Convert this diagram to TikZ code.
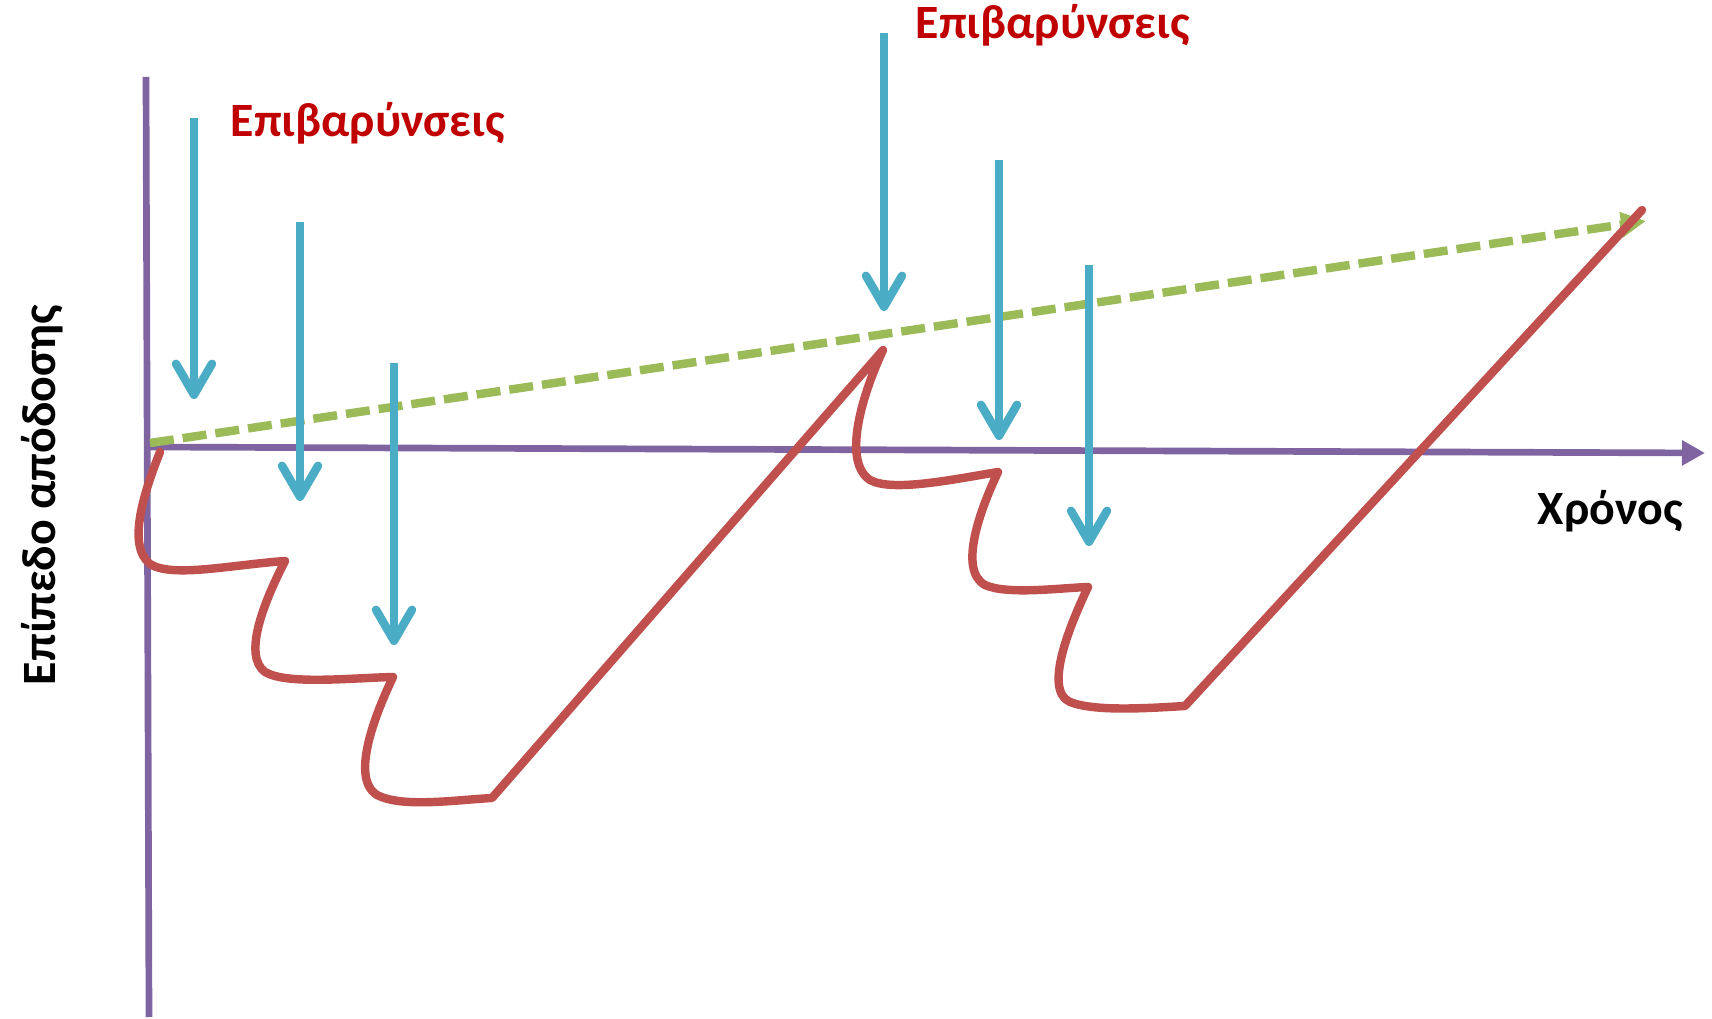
\documentclass[tikz,border=0pt]{standalone}
\usepackage{fontspec}
\setmainfont{Carlito}
\usepackage{tikz}
\usetikzlibrary{arrows.meta}

\definecolor{axispurple}{HTML}{8064A2}
\definecolor{loadblue}{HTML}{4BACC6}
\definecolor{curvered}{HTML}{C0504D}
\definecolor{trendgreen}{HTML}{9BBB59}
\definecolor{labelred}{HTML}{C00000}

\begin{document}
\begin{tikzpicture}[x=0.01cm,y=-0.01cm,
    axis/.style={axispurple,line width=1.9pt},
    load/.style={loadblue,line width=2.4pt,-{Straight Barb[length=0.31cm,width=0.36cm,round]}},
    lbl/.style={inner sep=0pt,font=\bfseries\fontsize{13.6}{16}\selectfont}]
    \useasboundingbox (0,0) rectangle (1712,1019);
    % axes
    \coordinate (top) at (146,77);
    \coordinate (bottom) at (149,1017);
    \coordinate (o) at (148,447);
    \coordinate (xend) at (1705,453);
    \draw[axis] (top) -- (bottom);
    \draw[axis,-{Triangle[length=0.23cm,width=0.24cm]}] (o) -- (xend);
    \node[lbl,anchor=base west] (time) at (1537,525) {Χρόνος};
    \node[lbl,rotate=90,anchor=base] (perf) at (55,495) {Επίπεδο απόδοσης};
    % trend line
    \coordinate (g0) at (150,443);
    \coordinate (g1) at (1646,221);
    \draw[trendgreen,line width=2.4pt,dash pattern=on 0.24cm off 0.09cm,
        -{Triangle[length=0.25cm,width=0.24cm]}] (g0) -- (g1);
    % performance curve
    \draw[curvered,line width=2.4pt,line cap=round,line join=round]
        (160,452) .. controls (145,490) and (126,545) .. (150,564)
        .. controls (172,578) and (230,565) .. (285,561)
        .. controls (265,600) and (242,655) .. (265,672)
        .. controls (287,685) and (350,678) .. (393,677)
        .. controls (375,715) and (350,778) .. (377,795)
        .. controls (402,808) and (455,800) .. (492,798)
        -- (883,350)
        .. controls (860,400) and (843,462) .. (870,480)
        .. controls (892,492) and (950,480) .. (998,472)
        .. controls (980,510) and (958,570) .. (985,585)
        .. controls (1007,595) and (1060,588) .. (1088,587)
        .. controls (1070,625) and (1043,690) .. (1070,702)
        .. controls (1095,712) and (1150,708) .. (1185,706)
        -- (1642,210);
    % loads
    \foreach \name/\x/\ya/\yb in {la/194/118/399, lb/300/222/501, lc/394/363/645,
        ld/884/33/311, le/999/160/440, lf/1089/265/546}{
        \coordinate (\name s) at (\x,\ya);
        \coordinate (\name e) at (\x,\yb);
        \draw[load] (\name s) -- (\name e);
    }
    \node[lbl,text=labelred,anchor=base west] (loads1) at (230,137) {Επιβαρύνσεις};
    \node[lbl,text=labelred,anchor=base west] (loads2) at (915,39) {Επιβαρύνσεις};
\end{tikzpicture}
\end{document}
